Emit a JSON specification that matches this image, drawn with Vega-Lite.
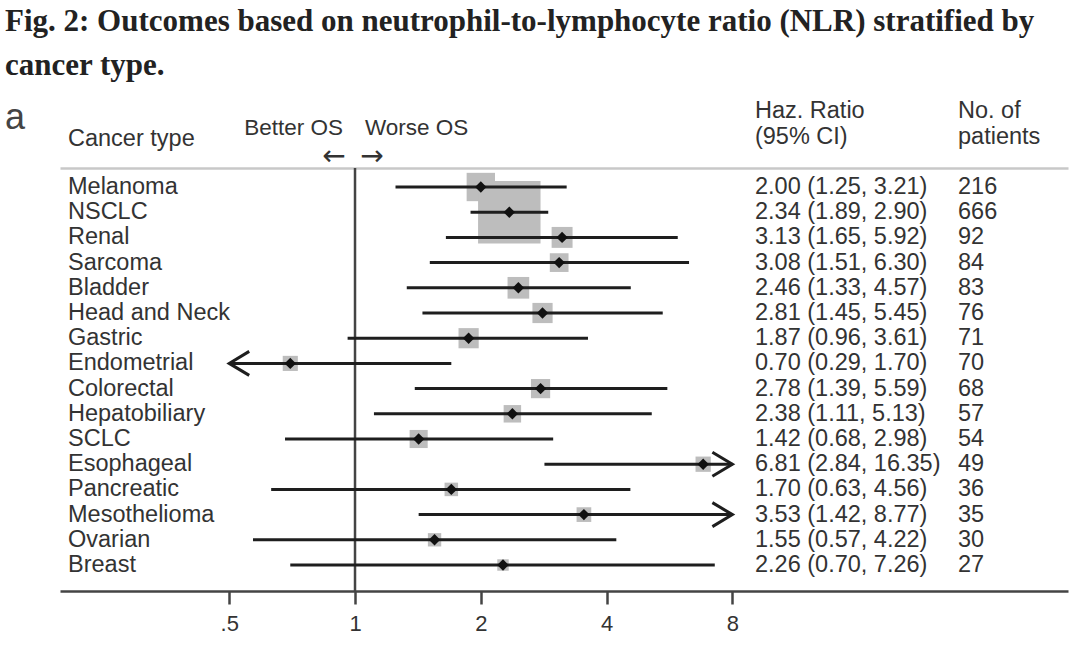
{
  "$schema": "https://vega.github.io/schema/vega-lite/v6.json",
  "width": 1008,
  "height": 423,
  "autosize": {"type": "none"},
  "padding": {"left": 60, "top": 168, "right": 12, "bottom": 58},
  "background": "white",
  "title": {
    "text": ["Fig. 2: Outcomes based on neutrophil-to-lymphocyte ratio (NLR) stratified by", "cancer type."],
    "anchor": "start",
    "frame": "group",
    "font": "Liberation Serif",
    "fontWeight": "bold",
    "fontSize": 31,
    "lineHeight": 44,
    "color": "#222222",
    "dx": -55,
    "offset": -14,
    "baseline": "bottom"
  },
  "config": {"view": {"stroke": null}, "text": {"font": "Liberation Sans"}},
  "datasets": {
    "rows": [
      {"type": "Melanoma", "hr": 2.00, "lo": 1.25, "hi": 3.21, "lo_shown": 1.25, "hi_shown": 3.21, "weight": 17.27, "ci_text": "2.00 (1.25, 3.21)", "n": 216},
      {"type": "NSCLC", "hr": 2.34, "lo": 1.89, "hi": 2.90, "lo_shown": 1.89, "hi_shown": 2.90, "weight": 83.8, "ci_text": "2.34 (1.89, 2.90)", "n": 666},
      {"type": "Renal", "hr": 3.13, "lo": 1.65, "hi": 5.92, "lo_shown": 1.65, "hi_shown": 5.92, "weight": 9.41, "ci_text": "3.13 (1.65, 5.92)", "n": 92},
      {"type": "Sarcoma", "hr": 3.08, "lo": 1.51, "hi": 6.30, "lo_shown": 1.51, "hi_shown": 6.30, "weight": 7.53, "ci_text": "3.08 (1.51, 6.30)", "n": 84},
      {"type": "Bladder", "hr": 2.46, "lo": 1.33, "hi": 4.57, "lo_shown": 1.33, "hi_shown": 4.57, "weight": 10.09, "ci_text": "2.46 (1.33, 4.57)", "n": 83},
      {"type": "Head and Neck", "hr": 2.81, "lo": 1.45, "hi": 5.45, "lo_shown": 1.45, "hi_shown": 5.45, "weight": 8.76, "ci_text": "2.81 (1.45, 5.45)", "n": 76},
      {"type": "Gastric", "hr": 1.87, "lo": 0.96, "hi": 3.61, "lo_shown": 0.96, "hi_shown": 3.61, "weight": 8.76, "ci_text": "1.87 (0.96, 3.61)", "n": 71},
      {"type": "Endometrial", "hr": 0.70, "lo": 0.29, "hi": 1.70, "lo_shown": 0.5, "hi_shown": 1.70, "weight": 4.91, "ci_text": "0.70 (0.29, 1.70)", "n": 70},
      {"type": "Colorectal", "hr": 2.78, "lo": 1.39, "hi": 5.59, "lo_shown": 1.39, "hi_shown": 5.59, "weight": 7.93, "ci_text": "2.78 (1.39, 5.59)", "n": 68},
      {"type": "Hepatobiliary", "hr": 2.38, "lo": 1.11, "hi": 5.13, "lo_shown": 1.11, "hi_shown": 5.13, "weight": 6.56, "ci_text": "2.38 (1.11, 5.13)", "n": 57},
      {"type": "SCLC", "hr": 1.42, "lo": 0.68, "hi": 2.98, "lo_shown": 0.68, "hi_shown": 2.98, "weight": 7.04, "ci_text": "1.42 (0.68, 2.98)", "n": 54},
      {"type": "Esophageal", "hr": 6.81, "lo": 2.84, "hi": 16.35, "lo_shown": 2.84, "hi_shown": 8, "weight": 5.02, "ci_text": "6.81 (2.84, 16.35)", "n": 49},
      {"type": "Pancreatic", "hr": 1.70, "lo": 0.63, "hi": 4.56, "lo_shown": 0.63, "hi_shown": 4.56, "weight": 3.92, "ci_text": "1.70 (0.63, 4.56)", "n": 36},
      {"type": "Mesothelioma", "hr": 3.53, "lo": 1.42, "hi": 8.77, "lo_shown": 1.42, "hi_shown": 8, "weight": 4.64, "ci_text": "3.53 (1.42, 8.77)", "n": 35},
      {"type": "Ovarian", "hr": 1.55, "lo": 0.57, "hi": 4.22, "lo_shown": 0.57, "hi_shown": 4.22, "weight": 3.83, "ci_text": "1.55 (0.57, 4.22)", "n": 30},
      {"type": "Breast", "hr": 2.26, "lo": 0.70, "hi": 7.26, "lo_shown": 0.70, "hi_shown": 7.26, "weight": 2.81, "ci_text": "2.26 (0.70, 7.26)", "n": 27}
    ],
    "arrows": [
      {"type": "Endometrial", "at": 0.5, "dir": "left"},
      {"type": "Esophageal", "at": 8, "dir": "right"},
      {"type": "Mesothelioma", "at": 8, "dir": "right"}
    ],
    "hdr_type": [{"h": "Cancer type", "row": "h2"}],
    "hdr_hr": [{"h": "Haz. Ratio", "row": "h3"}, {"h": "(95% CI)", "row": "h2"}],
    "hdr_n": [{"h": "No. of", "row": "h3"}, {"h": "patients", "row": "h2"}]
  },
  "resolve": {"axis": {"x": "independent"}},
  "layer": [
    {
      "data": {"values": [{"ref": 1}]},
      "mark": {"type": "rule", "color": "#444444", "strokeWidth": 2.5},
      "encoding": {
        "x": {
          "field": "ref",
          "type": "quantitative",
          "scale": {"type": "log", "base": 2, "domain": [0.1968, 50.84], "nice": false, "zero": false},
          "axis": {
            "orient": "bottom",
            "values": [0.5, 1, 2, 4, 8],
            "labelExpr": "datum.value < 1 ? '.5' : format(datum.value, 'd')",
            "tickSize": 13,
            "tickWidth": 2.5,
            "tickColor": "#444444",
            "domainColor": "#444444",
            "domainWidth": 2.5,
            "labelFont": "Liberation Sans",
            "labelFontSize": 22,
            "labelColor": "#333333",
            "labelPadding": 9,
            "labelFlush": false,
            "labelOverlap": false,
            "grid": false,
            "title": null
          }
        }
      }
    },
    {
      "data": {"name": "rows"},
      "mark": {"type": "square", "color": "#bdbdbd", "opacity": 1},
      "encoding": {
        "x": {
          "field": "hr",
          "type": "quantitative",
          "axis": {"orient": "top", "ticks": false, "labels": false, "domainColor": "#c8c8c8", "domainWidth": 2.5, "grid": false, "title": null}
        },
        "y": {
          "field": "type",
          "type": "ordinal",
          "scale": {
            "type": "point",
            "domain": ["h3", "h2", "h1", "Melanoma", "NSCLC", "Renal", "Sarcoma", "Bladder", "Head and Neck", "Gastric", "Endometrial", "Colorectal", "Hepatobiliary", "SCLC", "Esophageal", "Pancreatic", "Mesothelioma", "Ovarian", "Breast"],
            "range": [-56.6, 397],
            "padding": 0
          },
          "axis": null
        },
        "size": {"field": "weight", "type": "quantitative", "scale": {"type": "linear", "domain": [0, 83.8], "range": [0, 3900], "zero": true}, "legend": null}
      }
    },
    {
      "data": {"name": "rows"},
      "mark": {"type": "rule", "color": "#1e1e1e", "strokeWidth": 3},
      "encoding": {
        "x": {"field": "lo_shown", "type": "quantitative", "axis": null},
        "x2": {"field": "hi_shown"},
        "y": {"field": "type", "type": "ordinal", "axis": null}
      }
    },
    {
      "data": {"name": "arrows"},
      "mark": {"type": "point", "filled": false, "strokeWidth": 3, "color": "#1e1e1e", "opacity": 1, "size": 576},
      "encoding": {
        "x": {"field": "at", "type": "quantitative", "axis": null},
        "y": {"field": "type", "type": "ordinal", "axis": null},
        "shape": {"field": "dir", "type": "nominal", "scale": {"domain": ["left", "right"], "range": ["M1.667,-1L0,0L1.667,1", "M-1.667,-1L0,0L-1.667,1"]}, "legend": null}
      }
    },
    {
      "data": {"name": "rows"},
      "mark": {"type": "point", "shape": "diamond", "filled": true, "color": "#111111", "opacity": 1, "size": 130},
      "encoding": {
        "x": {"field": "hr", "type": "quantitative", "axis": null},
        "y": {"field": "type", "type": "ordinal", "axis": null}
      }
    },
    {
      "data": {"name": "rows"},
      "mark": {"type": "text", "align": "left", "baseline": "middle", "fontSize": 23.5, "color": "#333333", "dx": 8},
      "encoding": {
        "x": {"datum": 0.1968, "type": "quantitative", "axis": null},
        "y": {"field": "type", "type": "ordinal", "axis": null},
        "text": {"field": "type"}
      }
    },
    {
      "data": {"name": "rows"},
      "mark": {"type": "text", "align": "left", "baseline": "middle", "fontSize": 23.5, "color": "#333333"},
      "encoding": {
        "x": {"datum": 9.06, "type": "quantitative", "axis": null},
        "y": {"field": "type", "type": "ordinal", "axis": null},
        "text": {"field": "ci_text"}
      }
    },
    {
      "data": {"name": "rows"},
      "mark": {"type": "text", "align": "left", "baseline": "middle", "fontSize": 23.5, "color": "#333333"},
      "encoding": {
        "x": {"datum": 27.73, "type": "quantitative", "axis": null},
        "y": {"field": "type", "type": "ordinal", "axis": null},
        "text": {"field": "n"}
      }
    },
    {
      "data": {"name": "hdr_type"},
      "mark": {"type": "text", "align": "left", "baseline": "middle", "fontSize": 23.5, "color": "#333333", "dx": 8, "dy": 2},
      "encoding": {
        "x": {"datum": 0.1968, "type": "quantitative", "axis": null},
        "y": {"field": "row", "type": "ordinal", "axis": null},
        "text": {"field": "h"}
      }
    },
    {
      "data": {"name": "hdr_hr"},
      "mark": {"type": "text", "align": "left", "baseline": "middle", "fontSize": 23.5, "color": "#333333"},
      "encoding": {
        "x": {"datum": 9.06, "type": "quantitative", "axis": null},
        "y": {"field": "row", "type": "ordinal", "axis": null},
        "text": {"field": "h"}
      }
    },
    {
      "data": {"name": "hdr_n"},
      "mark": {"type": "text", "align": "left", "baseline": "middle", "fontSize": 23.5, "color": "#333333"},
      "encoding": {
        "x": {"datum": 27.73, "type": "quantitative", "axis": null},
        "y": {"field": "row", "type": "ordinal", "axis": null},
        "text": {"field": "h"}
      }
    },
    {
      "data": {"values": [{"h": "Better OS"}]},
      "mark": {"type": "text", "align": "right", "baseline": "middle", "fontSize": 22.5, "color": "#333333", "dx": -12, "dy": -9},
      "encoding": {
        "x": {"datum": 1, "type": "quantitative", "axis": null},
        "y": {"datum": "h2", "type": "ordinal", "axis": null},
        "text": {"field": "h"}
      }
    },
    {
      "data": {"values": [{"h": "Worse OS"}]},
      "mark": {"type": "text", "align": "left", "baseline": "middle", "fontSize": 22.5, "color": "#333333", "dx": 10, "dy": -9},
      "encoding": {
        "x": {"datum": 1, "type": "quantitative", "axis": null},
        "y": {"datum": "h2", "type": "ordinal", "axis": null},
        "text": {"field": "h"}
      }
    },
    {
      "data": {"values": [{"h": "←"}]},
      "mark": {"type": "text", "align": "center", "baseline": "middle", "font": "DejaVu Sans", "fontSize": 28, "color": "#333333", "dx": -21, "dy": -5},
      "encoding": {
        "x": {"datum": 1, "type": "quantitative", "axis": null},
        "y": {"datum": "h1", "type": "ordinal", "axis": null},
        "text": {"field": "h"}
      }
    },
    {
      "data": {"values": [{"h": "→"}]},
      "mark": {"type": "text", "align": "center", "baseline": "middle", "font": "DejaVu Sans", "fontSize": 28, "color": "#333333", "dx": 17, "dy": -5},
      "encoding": {
        "x": {"datum": 1, "type": "quantitative", "axis": null},
        "y": {"datum": "h1", "type": "ordinal", "axis": null},
        "text": {"field": "h"}
      }
    },
    {
      "data": {"values": [{"h": "a"}]},
      "mark": {"type": "text", "align": "left", "baseline": "alphabetic", "fontSize": 36, "color": "#444444", "dx": -55, "dy": 18},
      "encoding": {
        "x": {"datum": 0.1968, "type": "quantitative", "axis": null},
        "y": {"datum": "h3", "type": "ordinal", "axis": null},
        "text": {"field": "h"}
      }
    }
  ]
}
